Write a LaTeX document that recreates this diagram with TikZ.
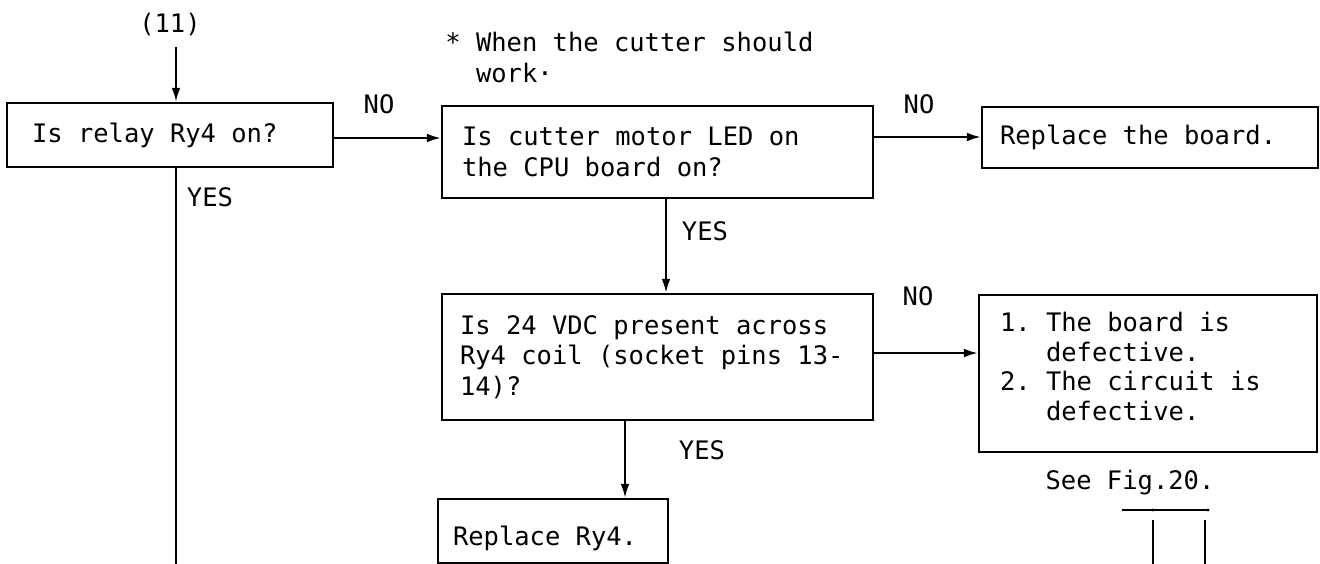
\documentclass[tikz,border=0pt]{standalone}
\usepackage{fontspec}
\setmonofont{DejaVu Sans Mono}
\usetikzlibrary{arrows.meta}
\newcommand\monofix{\fontdimen2\font=\fontcharwd\font`\x \fontdimen3\font=0pt \fontdimen4\font=0pt }
\newcommand\fullspace{\spaceskip=\fontcharwd\font`\x\relax\xspaceskip=\spaceskip}
\begin{document}
\begin{tikzpicture}[x=0.02cm,y=-0.02cm,
  txt/.style={font=\ttfamily\fontsize{14.5}{17.5}\selectfont\monofix},
  box/.style={txt,draw,line width=1.3pt,rectangle,inner sep=0pt,align=left,execute at begin node=\fullspace},
  lbl/.style={txt,inner sep=0pt},
  arr/.style={line width=1.2pt,-{Latex[length=8pt,width=5pt]}},
  ln/.style={line width=1.2pt},
  thin/.style={line width=0.6pt}]
\useasboundingbox (0,0) rectangle (1320,564);

% boxes
\node[box,minimum width=6.52cm,minimum height=1.28cm,text width=5.52cm] (b1) at (170,135) {Is relay Ry4 on?};
\node[box,minimum width=8.62cm,minimum height=1.84cm,text width=7.82cm] (b2) at (657.5,152) {Is cutter motor LED on\\the CPU board on?};
\node[box,minimum width=6.72cm,minimum height=1.22cm,text width=6.0cm] (b3) at (1150,137.5) {Replace the board.};
\node[box,minimum width=8.62cm,minimum height=2.52cm,text width=7.9cm] (b4) at (657.5,357) {Is 24 VDC present across\\Ry4 coil (socket pins 13-\\14)?};
\node[box,font=\ttfamily\fontsize{14.5}{16.8}\selectfont\monofix,minimum width=6.76cm,minimum height=3.14cm,text width=5.92cm] (b5) at (1148,373.5) {1.~The board is\\\hphantom{1.~}defective.\\2.~The circuit is\\\hphantom{2.~}defective.\rule[-0.28cm]{0pt}{0pt}};
\node[box,minimum width=4.6cm,minimum height=1.28cm,text width=4.0cm] (b6) at (553,531) {\rule{0pt}{19pt}Replace Ry4.};

% labels
\node[lbl] (n11) at (170,25) {(11)};
\node[lbl,anchor=west,align=left] (note) at (445,57.5) {* When the cutter should\\\hphantom{*~}work·};
\node[lbl] (no1) at (379,104) {NO};
\node[lbl] (no2) at (919,104) {NO};
\node[lbl] (no3) at (918,296) {NO};
\node[lbl] (yes1) at (210,197) {YES};
\node[lbl] (yes2) at (705,231) {YES};
\node[lbl] (yes3) at (702,450) {YES};
\node[lbl] (see) at (1130,483) {See Fig.20.};

% helper coordinates
\coordinate (c11) at (176,47);
\coordinate (ya) at (0,138);
\coordinate (yb) at (0,137);
\coordinate (yc) at (0,353);
\coordinate (xa) at (666,0);
\coordinate (xb) at (625,0);
\coordinate (endA) at (176,564);

% connectors
\draw[arr] (c11) -- (c11 |- b1.north);
\draw[arr] (b1.east |- ya) -- (b2.west |- ya);
\draw[arr] (b2.east |- yb) -- (b3.west |- yb);
\draw[arr] (b2.south -| xa) -- (b4.north -| xa);
\draw[arr] (b4.east |- yc) -- (b5.west |- yc);
\draw[arr] (b4.south -| xb) -- (b6.north -| xb);
\draw[ln] (b1.south -| endA) -- (endA);

% partial figure below "See Fig.20."
\coordinate (f1) at (1122,510);
\coordinate (f2) at (1208,510);
\coordinate (f3) at (1153,510);
\coordinate (v1t) at (1153,520);
\coordinate (v1b) at (1153,564);
\coordinate (v2t) at (1205,520);
\coordinate (v2b) at (1205,564);
\draw[thin] (f1) -- (f2);
\fill (f3) circle (1.6);
\fill (f2) circle (1.6);
\draw[ln] (v1t) -- (v1b);
\draw[ln] (v2t) -- (v2b);
\end{tikzpicture}
\end{document}
